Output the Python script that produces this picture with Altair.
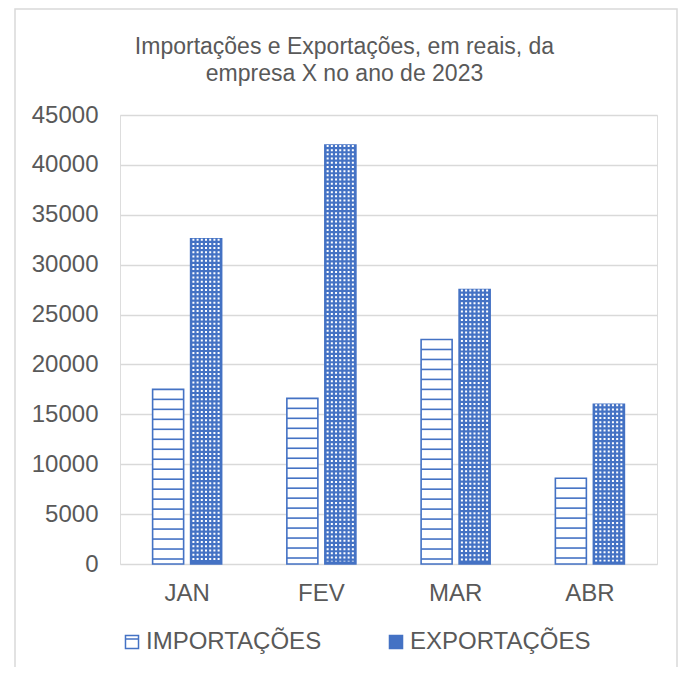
import altair as alt
import pandas as pd

months = ["JAN", "FEV", "MAR", "ABR"]
importacoes = [17500, 16600, 22500, 8600]
exportacoes = [32600, 42000, 27500, 16000]
series = ["IMPORTAÇÕES", "EXPORTAÇÕES"]
y_ticks = [0, 5000, 10000, 15000, 20000, 25000, 30000, 35000, 40000, 45000]

BLUE = "#4472C4"
TEXT = "#595959"
GRID = "#d9d9d9"
FONT = "Liberation Sans"

rows = []
for m, a, b in zip(months, importacoes, exportacoes):
    rows.append({"mes": m, "serie": series[0], "valor": a})
    rows.append({"mes": m, "serie": series[1], "valor": b})
df = pd.DataFrame(rows)

# pattern helpers (horizontal stripes of the import bars, every 1000 below the top)
stripes = []
for m, a in zip(months, importacoes):
    v = a - 1000
    while v > 300:
        stripes.append({"mes": m, "serie": series[0], "valor": v})
        v -= 1000
df_stripes = pd.DataFrame(stripes)
df_exp = pd.DataFrame({"mes": months, "valor": exportacoes})

x_enc = alt.X("mes:N", sort=months, title=None,
              scale=alt.Scale(paddingInner=0, paddingOuter=0),
              axis=alt.Axis(labelFontSize=24, labelColor=TEXT, labelFont=FONT,
                            labelAngle=0, ticks=False, domain=False,
                            labelBaseline="alphabetic", labelPadding=36))
xoff = alt.XOffset("serie:N", sort=series,
                   scale=alt.Scale(paddingInner=0.184, paddingOuter=0.858))
y_enc = alt.Y("valor:Q", title=None,
              scale=alt.Scale(domain=[0, 45000], nice=False),
              axis=alt.Axis(values=y_ticks, format="d", labelFontSize=24,
                            labelColor=TEXT, labelFont=FONT, ticks=False,
                            domain=False, labelPadding=22, gridColor=GRID,
                            gridWidth=1.3))

bars = alt.Chart(df).mark_bar(strokeWidth=1.6).encode(
    x=x_enc,
    xOffset=xoff,
    y=y_enc,
    fill=alt.Fill("serie:N", sort=series,
                  scale=alt.Scale(domain=series, range=["#ffffff", BLUE]),
                  legend=alt.Legend(title=None, orient="none", direction="horizontal",
                                    legendX=0, legendY=515,
                                    labelFontSize=24, labelColor=TEXT, labelFont=FONT,
                                    labelLimit=400,
                                    symbolType="M-1,-1H1V1H-1Z M-1,-0.45H1",
                                    symbolSize=170, symbolStrokeWidth=1.5,
                                    labelOffset=2, columnPadding=62)),
    stroke=alt.Stroke("serie:N", sort=series,
                      scale=alt.Scale(domain=series, range=[BLUE, BLUE]),
                      legend=None),
)

stripe_marks = alt.Chart(df_stripes).mark_tick(
    orient="horizontal", color=BLUE, size=31, thickness=1.6, opacity=1
).encode(
    x=alt.X("mes:N", sort=months),
    xOffset=alt.XOffset("serie:N", sort=series),
    y=alt.Y("valor:Q"),
)

dot_layers = []
for dx in [73.4, 77.6, 81.8, 86.0, 90.2, 94.4, 98.6]:
    dot_layers.append(
        alt.Chart(df_exp).mark_rule(color="white", strokeWidth=2.0,
                                    strokeDash=[2.0, 2.2]).encode(
            x=alt.X("mes:N", sort=months),
            xOffset=alt.value(dx),
            y=alt.Y("valor:Q"),
            y2=alt.datum(250),
        )
    )

frame = alt.Chart(alt.Data(values=[{"a": 1}])).mark_rect(
    fill="transparent", stroke=GRID, strokeWidth=1.5
).encode(
    x=alt.value(-105), x2=alt.value(557),
    y=alt.value(-106), y2=alt.value(620),
)

chart = alt.layer(frame, bars, stripe_marks, *dot_layers).properties(
    width=537, height=449,
    title=alt.TitleParams(
        text=["Importações e Exportações, em reais, da", "empresa X no ano de 2023"],
        fontSize=23, color=TEXT, font=FONT, fontWeight="normal",
        anchor="middle", dx=-44, offset=0, dy=78, lineHeight=27,
    ),
    autosize=alt.AutoSizeParams(type="none"),
    padding={"left": 112, "top": 107, "right": 23, "bottom": 103},
).configure_view(stroke=None).configure(background="white")

chart.save("out.html", embed_options={"renderer": "svg", "actions": False})
